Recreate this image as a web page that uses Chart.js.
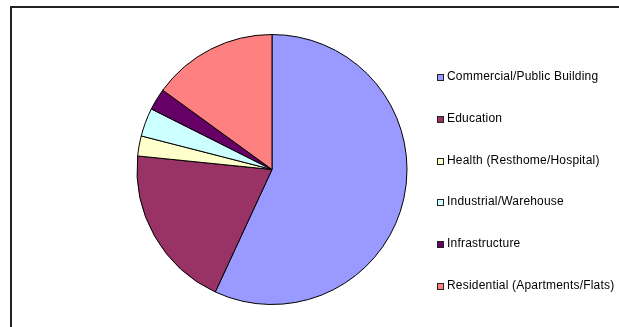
<!DOCTYPE html>
<html>
<head>
<meta charset="utf-8">
<script src="https://cdn.jsdelivr.net/npm/chart.js@4/dist/chart.umd.min.js"></script>
<style>
  html, body { margin: 0; padding: 0; background: #fff; overflow: hidden; }
  #wrap { position: relative; width: 619px; height: 327px; overflow: hidden; }
  #frame { position: absolute; left: 10px; top: 6px; width: 620px; height: 330px;
           border-left: 2px solid #222; border-top: 2px solid #222; }
  #pie { position: absolute; left: 0; top: 0; }
  #legend { position: absolute; left: 437px; top: 70px; margin: 0; padding: 0; list-style: none;
            font-family: Arial, "Liberation Sans", sans-serif; font-size: 12px; letter-spacing: 0.2px;
            color: #000; }
  #legend li { height: 41.75px; line-height: 13px; white-space: nowrap; }
  #legend span { display: inline-block; width: 5px; height: 5px; border: 1px solid #222;
                 margin-right: 3px; vertical-align: -1px; }
</style>
</head>
<body>
<div id="wrap">
  <div id="frame"></div>
  <canvas id="pie" width="619" height="327"></canvas>
  <ul id="legend"></ul>
</div>
<script>
var sectors = ['Commercial/Public Building', 'Education', 'Health (Resthome/Hospital)',
               'Industrial/Warehouse', 'Infrastructure', 'Residential (Apartments/Flats)'];
var shares = [56.9, 19.7, 2.4, 3.4, 2.6, 15.0];
var fills = ['#9999FF', '#993366', '#FFFFCC', '#CCFFFF', '#660066', '#FF8080'];

var ctx = document.getElementById('pie').getContext('2d');
var pie = new Chart(ctx, {
    type: 'pie',
    data: {
        labels: sectors,
        datasets: [{
            data: shares,
            backgroundColor: fills,
            borderColor: '#000',
            borderWidth: 1
        }]
    },
    options: {
        responsive: false,
        animation: false,
        layout: { padding: { left: 0, right: 75, top: 34, bottom: 22 } },
        plugins: {
            legend: { display: false },
            tooltip: { enabled: false }
        }
    }
});

// legend list on the right, one row per sector
var ul = document.getElementById('legend');
for (var i = 0; i < sectors.length; i++) {
    var li = document.createElement('li');
    var box = document.createElement('span');
    box.style.background = fills[i];
    li.appendChild(box);
    li.appendChild(document.createTextNode(sectors[i]));
    ul.appendChild(li);
}
</script>
</body>
</html>
